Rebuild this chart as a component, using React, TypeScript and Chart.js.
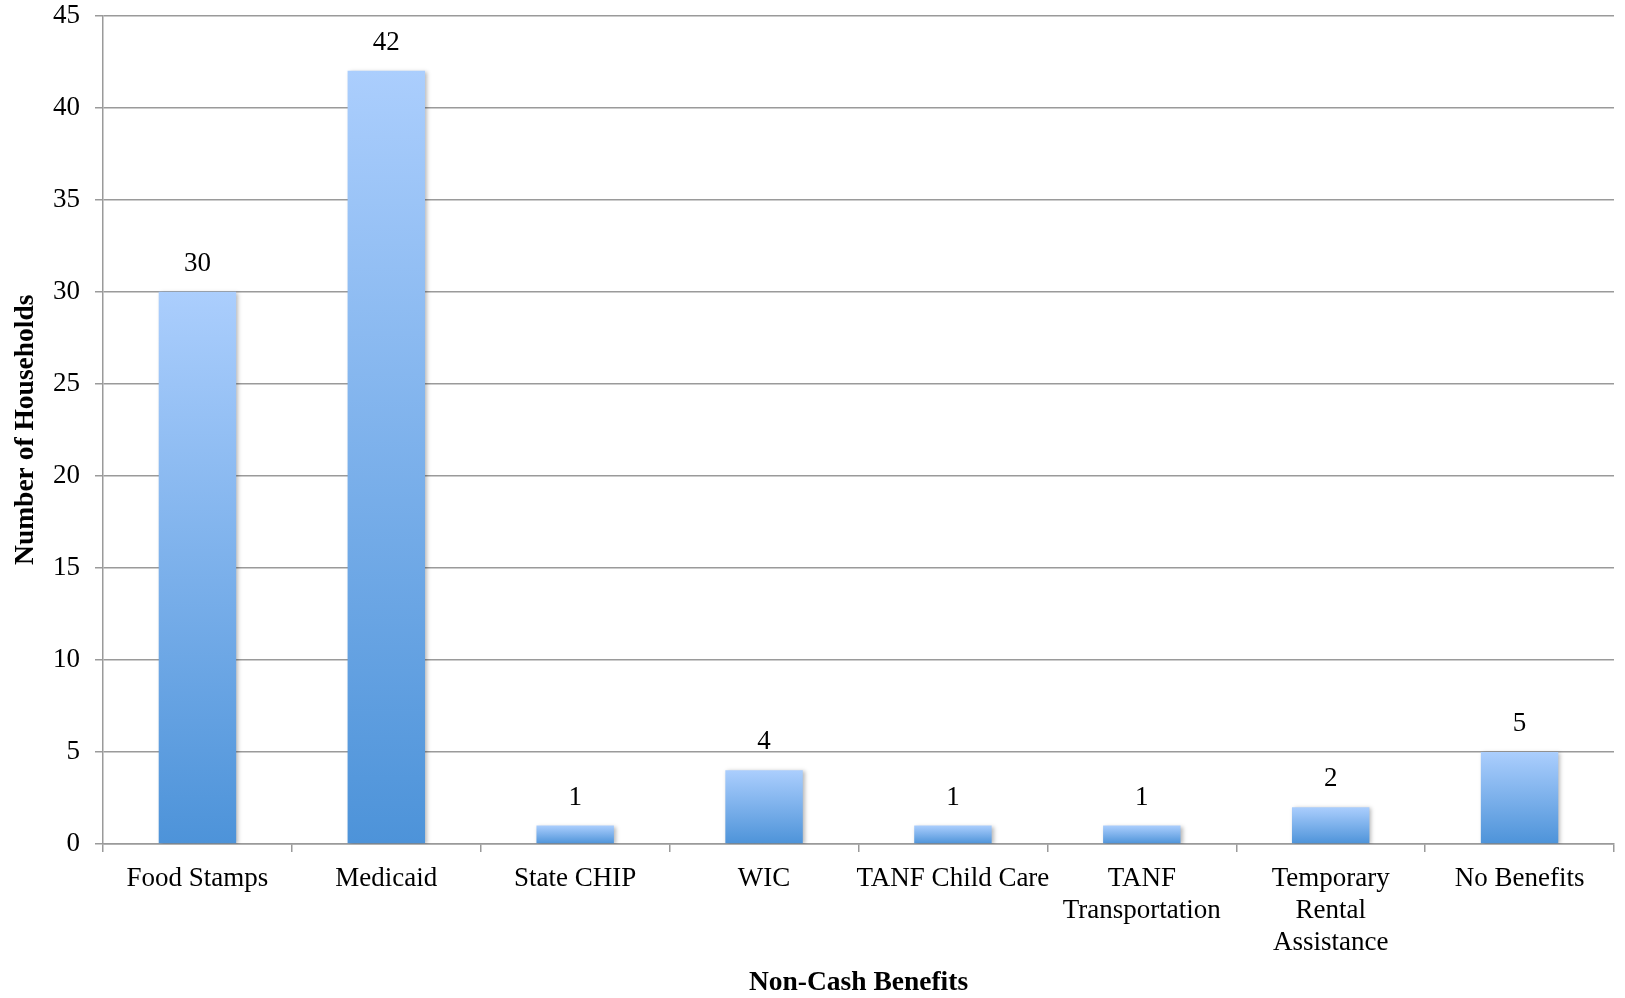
import React, { useEffect, useRef } from "react";
import { Chart, registerables } from "chart.js";

Chart.register(...registerables);

const categories: (string | string[])[] = [
  "Food Stamps",
  "Medicaid",
  "State CHIP",
  "WIC",
  "TANF Child Care",
  ["TANF", "Transportation"],
  ["Temporary", "Rental", "Assistance"],
  "No Benefits",
];
const households: number[] = [30, 42, 1, 4, 1, 1, 2, 5];
const yTicks: number[] = [0, 5, 10, 15, 20, 25, 30, 35, 40, 45];
const xTitle = "Non-Cash Benefits";
const yTitle = "Number of Households";

const FONT = "'Liberation Serif', serif";
const TOP_COLOR = "#abcefd";
const BOTTOM_COLOR = "#4d93d9";
const GRID = "#9a9a9a";
const TEXT = "#000";

export default function App() {
  const ref = useRef<HTMLCanvasElement | null>(null);

  useEffect(() => {
    document.body.style.margin = "0";
    const canvas = ref.current;
    if (!canvas) return;

    const shadowPlugin = {
      id: "barShadow",
      beforeDatasetsDraw(chart: any) {
        const c = chart.ctx;
        c.save();
        c.shadowColor = "rgba(0,0,0,0.28)";
        c.shadowBlur = 4;
        c.shadowOffsetX = 2;
        c.shadowOffsetY = 1;
      },
      afterDatasetsDraw(chart: any) {
        chart.ctx.restore();
      },
    };

    const labelPlugin = {
      id: "valueLabels",
      afterDatasetsDraw(chart: any) {
        const c = chart.ctx;
        const meta = chart.getDatasetMeta(0);
        c.save();
        c.font = `27px ${FONT}`;
        c.fillStyle = TEXT;
        c.textAlign = "center";
        c.textBaseline = "alphabetic";
        meta.data.forEach((el: any, i: number) => {
          c.fillText(String(households[i]), el.x, el.y - 21);
        });
        c.restore();
      },
    };

    const chart = new Chart(canvas, {
      type: "bar",
      data: {
        labels: categories,
        datasets: [
          {
            data: households,
            barPercentage: 0.41,
            categoryPercentage: 1,
            borderWidth: 0,
            backgroundColor: (ctx: any) => {
              const ch = ctx.chart;
              const scales = ch.scales;
              if (!ch.chartArea || ctx.type !== "data" || !scales.y) return TOP_COLOR;
              const yTop = scales.y.getPixelForValue(ctx.raw);
              const yBase = scales.y.getPixelForValue(0);
              const g = ch.ctx.createLinearGradient(0, yTop, 0, yBase);
              g.addColorStop(0, TOP_COLOR);
              g.addColorStop(1, BOTTOM_COLOR);
              return g;
            },
          },
        ],
      },
      options: {
        responsive: false,
        animation: false,
        layout: { padding: { left: 0, right: 11, top: 0, bottom: 0 } },
        plugins: {
          legend: { display: false },
          tooltip: { enabled: false },
        },
        scales: {
          x: {
            offset: true,
            grid: {
              display: true,
              offset: true,
              drawOnChartArea: false,
              drawTicks: true,
              tickLength: 8,
              color: GRID,
              lineWidth: 1.5,
            },
            border: { display: true, color: GRID, width: 1.5 },
            ticks: {
              color: TEXT,
              font: { family: FONT, size: 27, lineHeight: 1.185 },
              padding: 11,
              maxRotation: 0,
              autoSkip: false,
            },
            title: {
              display: true,
              text: xTitle,
              color: TEXT,
              font: { family: FONT, size: 27.5, weight: "bold", lineHeight: 1.1 },
              padding: { top: 0, bottom: 0 },
            },
            afterFit(scale: any) {
              scale.height = 998 - 844;
            },
          },
          y: {
            min: 0,
            max: 45,
            afterBuildTicks(scale: any) {
              scale.ticks = yTicks.map((v) => ({ value: v }));
            },
            grid: {
              color: GRID,
              lineWidth: 1.5,
              tickLength: 8,
              drawTicks: true,
            },
            border: { display: true, color: GRID, width: 1.5 },
            ticks: {
              color: TEXT,
              font: { family: FONT, size: 27, lineHeight: 1.0 },
              padding: 15,
            },
            title: {
              display: true,
              text: yTitle,
              color: TEXT,
              font: { family: FONT, size: 27.5, weight: "bold", lineHeight: 1.2 },
              padding: { top: 9.5, bottom: 0 },
            },
            afterFit(scale: any) {
              scale.width = 103;
              scale.paddingTop = 15.5;
              scale.paddingBottom = 0;
            },
          },
        },
      },
      plugins: [shadowPlugin, labelPlugin],
    } as any);

    return () => chart.destroy();
  }, []);

  return (
    <div style={{ width: 1625, height: 998 }}>
      <canvas ref={ref} width={1625} height={998} style={{ display: "block" }} />
    </div>
  );
}
